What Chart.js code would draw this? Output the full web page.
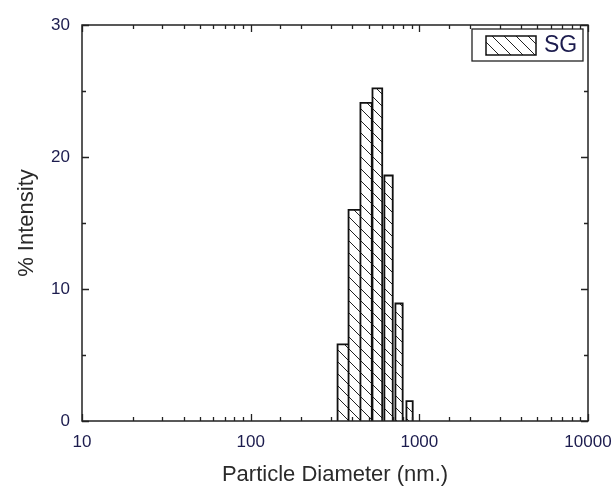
<!DOCTYPE html>
<html>
<head>
<meta charset="utf-8">
<script src="https://cdn.jsdelivr.net/npm/chart.js@4.4.0/dist/chart.umd.min.js"></script>
<style>
  html, body { margin: 0; padding: 0; background: #fff; }
  #wrap { width: 616px; height: 491px; }
</style>
</head>
<body>
<div id="wrap"><canvas id="chart"></canvas></div>
<script>
// data
const seriesName = 'SG';
const diameters = [365, 418, 485, 565, 658, 759, 876];   // bin centres, nm
const intensity = [5.8, 16.0, 24.1, 25.2, 18.6, 8.9, 1.5]; // % intensity
const binWidth = 75;                                        // nm
const xMin = 10, xMax = 10000;
const yMin = 0, yMax = 30, yStep = 5;

// "\\\" hatching like the original
function hatchPattern() {
    const s = 12;
    const c = document.createElement('canvas');
    c.width = s; c.height = s;
    const g = c.getContext('2d');
    g.fillStyle = '#fff';
    g.fillRect(0, 0, s, s);
    g.strokeStyle = '#222';
    g.lineWidth = 1;
    g.beginPath();
    g.moveTo(0, 0); g.lineTo(s, s);
    g.moveTo(-1, s - 1); g.lineTo(1, s + 1);
    g.moveTo(s - 1, -1); g.lineTo(s + 1, 1);
    g.stroke();
    return g.createPattern(c, 'repeat');
}
const hatch = hatchPattern();

// one closed outline per bar so widths follow the log axis
const datasets = diameters.map((d, i) => ({
    label: seriesName,
    data: [
        { x: d - binWidth / 2, y: 0 },
        { x: d - binWidth / 2, y: intensity[i] },
        { x: d + binWidth / 2, y: intensity[i] },
        { x: d + binWidth / 2, y: 0 }
    ],
    borderColor: '#111',
    borderWidth: 1.8,
    backgroundColor: hatch,
    fill: 'origin',
    tension: 0,
    pointRadius: 0,
    borderJoinStyle: 'miter',
    order: diameters.length - i
}));

// inward ticks on all four sides + frame
const frameTicks = {
    id: 'frameTicks',
    afterDatasetsDraw(chart) {
        const { ctx, chartArea: a, scales: { x, y } } = chart;
        ctx.save();
        ctx.strokeStyle = '#222';
        ctx.lineWidth = 1.3;
        ctx.beginPath();
        x.ticks.forEach(t => {
            const px = Math.round(x.getPixelForValue(t.value)) + 0.5;
            const lg = Math.log10(t.value);
            const len = Math.abs(lg - Math.round(lg)) < 1e-6 ? 7 : 4;
            ctx.moveTo(px, a.bottom); ctx.lineTo(px, a.bottom - len);
            ctx.moveTo(px, a.top); ctx.lineTo(px, a.top + len);
        });
        y.ticks.forEach(t => {
            const py = Math.round(y.getPixelForValue(t.value)) + 0.5;
            const len = t.value % 10 === 0 ? 7 : 4;
            ctx.moveTo(a.left, py); ctx.lineTo(a.left + len, py);
            ctx.moveTo(a.right, py); ctx.lineTo(a.right - len, py);
        });
        ctx.stroke();
        ctx.lineWidth = 1.5;
        ctx.strokeRect(a.left, a.top, a.width, a.height);
        ctx.restore();
    }
};

// boxed legend in the top right corner
const boxLegend = {
    id: 'boxLegend',
    afterDraw(chart) {
        const { ctx, chartArea: a } = chart;
        const ds = chart.data.datasets[0];
        const w = 111, h = 32;
        const left = a.right - w - 5, top = a.top + 4;
        ctx.save();
        ctx.fillStyle = '#fff';
        ctx.fillRect(left, top, w, h);
        ctx.strokeStyle = '#222';
        ctx.lineWidth = 1.3;
        ctx.strokeRect(left, top, w, h);
        ctx.fillStyle = ds.backgroundColor;
        ctx.fillRect(left + 14, top + 7, 50, 19);
        ctx.strokeStyle = ds.borderColor;
        ctx.lineWidth = 1.5;
        ctx.strokeRect(left + 14, top + 7, 50, 19);
        ctx.fillStyle = '#1c1c4e';
        ctx.font = '23px Arial, "Liberation Sans", sans-serif';
        ctx.textBaseline = 'middle';
        ctx.fillText(ds.label, left + 72, top + 17);
        ctx.restore();
    }
};

const tickFont = { family: 'Arial, "Liberation Sans", sans-serif', size: 17 };
const titleFont = { family: 'Arial, "Liberation Sans", sans-serif', size: 22 };

new Chart(document.getElementById('chart'), {
    type: 'line',
    data: { datasets: datasets },
    options: {
        responsive: true,
        maintainAspectRatio: false,
        animation: false,
        events: [],
        layout: { padding: { top: 25, right: 28, left: 0, bottom: 0 } },
        plugins: {
            legend: { display: false },
            tooltip: { enabled: false }
        },
        scales: {
            x: {
                type: 'logarithmic',
                min: xMin,
                max: xMax,
                grid: { display: false, drawTicks: false },
                border: { display: false },
                ticks: {
                    autoSkip: false,
                    maxRotation: 0,
                    padding: 11,
                    color: '#1c1c4e',
                    font: tickFont,
                    callback: (v) => {
                        const lg = Math.log10(v);
                        return Math.abs(lg - Math.round(lg)) < 1e-6 ? String(v) : '';
                    }
                },
                title: {
                    display: true,
                    text: 'Particle Diameter (nm.)',
                    color: '#2a2a2a',
                    font: titleFont,
                    padding: { top: 0, bottom: 3 }
                },
                afterFit: (s) => { s.height = 70; s.paddingRight = 0; s.paddingLeft = 0; }
            },
            y: {
                min: yMin,
                max: yMax,
                grid: { display: false, drawTicks: false },
                border: { display: false },
                ticks: {
                    stepSize: yStep,
                    padding: 12,
                    color: '#1c1c4e',
                    font: tickFont,
                    callback: (v) => (v % 10 === 0 ? String(v) : '')
                },
                title: {
                    display: true,
                    text: '% Intensity',
                    color: '#2a2a2a',
                    font: titleFont,
                    padding: { top: 14, bottom: 0 }
                },
                afterFit: (s) => { s.width = 82; s.paddingTop = 0; s.paddingBottom = 0; }
            }
        }
    },
    plugins: [frameTicks, boxLegend]
});
</script>
</body>
</html>
